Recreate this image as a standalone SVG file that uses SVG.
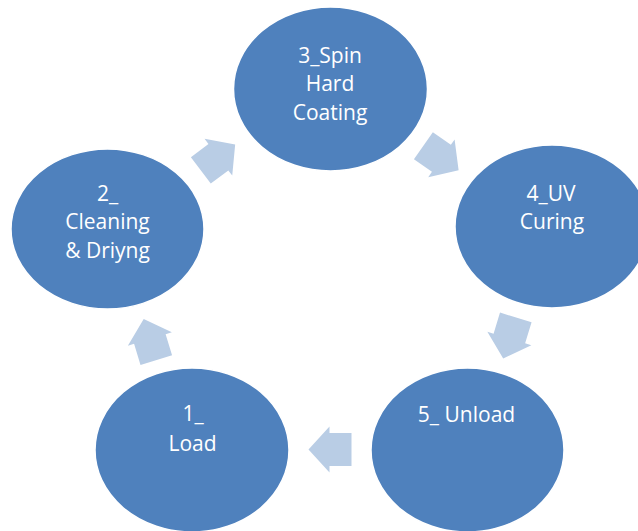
<svg xmlns="http://www.w3.org/2000/svg" width="638" height="531" viewBox="0 0 638 531">
<defs>
<style>
.node{fill:#4F81BD;stroke:#FFFFFF;stroke-width:1.5}
.lbl{fill:#FFFFFF;font-family:"Open Sans","Noto Sans","Liberation Sans",sans-serif;font-size:21px;text-anchor:middle}
.arr{fill:#B9CDE5}
</style>
<polygon id="arrow" points="-21.5,-16.5 0.5,-16.5 0.5,-23 21.5,0 0.5,23 0.5,16.5 -21.5,16.5"/>
</defs>
<rect width="638" height="531" fill="#FFFFFF"/>
<g id="connectors">
<use href="#arrow" class="arr" transform="translate(330,449.5) rotate(180)"/>
<use href="#arrow" class="arr" transform="translate(150,339.5) rotate(-107)"/>
<use href="#arrow" class="arr" transform="translate(218,157.5) rotate(-37)"/>
<use href="#arrow" class="arr" transform="translate(441,158) rotate(35)"/>
<use href="#arrow" class="arr" transform="translate(509.5,338) rotate(107)"/>
</g>
<g id="node1">
<ellipse class="node" cx="192" cy="450" rx="97" ry="82"/>
<text class="lbl" x="193" y="421">1_</text>
<text class="lbl" x="192.5" y="451">Load</text>
</g>
<g id="node2">
<ellipse class="node" cx="107.5" cy="229" rx="96.5" ry="80"/>
<text class="lbl" x="107.5" y="201">2_</text>
<text class="lbl" x="107.5" y="229">Cleaning</text>
<text class="lbl" x="107.5" y="258">&amp; Driyng</text>
</g>
<g id="node3">
<ellipse class="node" cx="330.5" cy="89" rx="97" ry="82"/>
<text class="lbl" x="330" y="62.5">3_Spin</text>
<text class="lbl" x="330" y="91">Hard</text>
<text class="lbl" x="330" y="120">Coating</text>
</g>
<g id="node4">
<ellipse class="node" cx="552" cy="226.5" rx="97" ry="81.5"/>
<text class="lbl" x="551" y="200.5">4_UV</text>
<text class="lbl" x="552" y="228.5">Curing</text>
</g>
<g id="node5">
<ellipse class="node" cx="467.5" cy="450" rx="96.5" ry="82"/>
<text class="lbl" x="466.5" y="421.5">5_ Unload</text>
</g>
</svg>
